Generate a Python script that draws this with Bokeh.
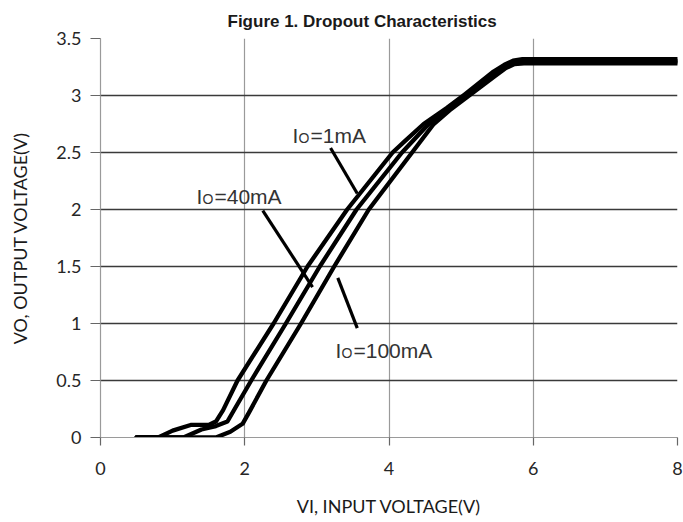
from bokeh.plotting import figure
from bokeh.models import Label, FixedTicker, Range1d, Title
from bokeh.embed import file_html
from bokeh.resources import INLINE

# ---------------- data ----------------
vin_1mA = [0.5, 0.8, 1.0, 1.25, 1.5, 1.6, 1.7, 1.9, 2.4, 2.87, 3.42, 4.05, 4.22, 4.48, 4.8,
           5.05, 5.45, 5.6, 5.72, 5.85, 8.0]
vout_1mA = [0.0, 0.0, 0.06, 0.11, 0.11, 0.14, 0.24, 0.5, 1.0, 1.5, 2.0, 2.5, 2.6, 2.75, 2.89,
            3.01, 3.21, 3.27, 3.305, 3.318, 3.318]

vin_40mA = [0.5, 1.15, 1.4, 1.6, 1.76, 1.86, 2.09, 2.57, 3.04, 3.55, 4.18, 4.55, 4.82,
            5.06, 5.46, 5.61, 5.73, 5.86, 8.0]
vout_40mA = [0.0, 0.0, 0.07, 0.1, 0.14, 0.25, 0.5, 1.0, 1.5, 2.0, 2.5, 2.75, 2.88,
             3.0, 3.19, 3.255, 3.29, 3.30, 3.30]

vin_100mA = [0.5, 1.6, 1.8, 1.97, 2.06, 2.3, 2.78, 3.24, 3.72, 4.32, 4.62, 4.84,
             5.07, 5.47, 5.62, 5.74, 5.87, 8.0]
vout_100mA = [0.0, 0.0, 0.05, 0.12, 0.22, 0.5, 1.0, 1.5, 2.0, 2.5, 2.75, 2.87,
              2.98, 3.17, 3.24, 3.275, 3.283, 3.283]

x_ticks = [0, 2, 4, 6, 8]
y_ticks = [0, 0.5, 1, 1.5, 2, 2.5, 3, 3.5]
y_tick_labels = ["0", "0.5", "1", "1.5", "2", "2.5", "3", "3.5"]

curve_names = ["1mA", "40mA", "100mA"]
# leader lines (data coords): start -> end
leader_x0 = [3.19, 2.25, 3.56]
leader_y0 = [2.54, 1.99, 0.96]
leader_x1 = [3.56, 2.94, 3.29]
leader_y1 = [2.14, 1.32, 1.40]

title_text = "Figure 1. Dropout Characteristics"
x_title = "VI, INPUT VOLTAGE(V)"
y_title = "VO, OUTPUT VOLTAGE(V)"

# ---------------- layout ----------------
W, H = 683, 522
FL, FT, FR, FB = 100, 38, 677, 437  # frame edges in canvas px
XPU = (FR - FL) / 8.0
YPU = (FB - FT) / 3.5


def dx(px):
    return (px - FL) / XPU


def dy(py):
    return (FB - py) / YPU


p = figure(width=W, height=H, x_range=Range1d(0, 8), y_range=Range1d(0, 3.5),
           output_backend="svg", toolbar_location=None,
           min_border_left=FL, min_border_right=W - FR, min_border_top=FT,
           min_border_bottom=H - FB)
p.title = Title(text=title_text, align="left", offset=127, standoff=15,
                text_font="Liberation Sans", text_font_style="bold",
                text_font_size="17px", text_color="#1a1a1a")
p.outline_line_color = None
p.background_fill_color = "white"
p.border_fill_color = "white"

p.xgrid.ticker = FixedTicker(ticks=[2, 4, 6, 8])
p.xgrid.grid_line_color = "#9a9a9a"
p.xgrid.grid_line_width = 1.2
p.ygrid.ticker = FixedTicker(ticks=y_ticks[1:])
p.ygrid.grid_line_color = "#3a3a3a"
p.ygrid.grid_line_width = 1.3

p.xaxis.ticker = FixedTicker(ticks=x_ticks)
p.yaxis.ticker = FixedTicker(ticks=y_ticks)
p.yaxis.major_label_overrides = {t: s for t, s in zip(y_ticks, y_tick_labels)}
for ax in (p.xaxis, p.yaxis):
    ax.axis_line_color = "#9a9a9a"
    ax.axis_line_width = 1.2
    ax.major_tick_line_color = "#666666"
    ax.major_tick_line_width = 1.2
    ax.minor_tick_line_color = None
    ax.major_tick_in = 0
    ax.major_label_text_font = "Lato"
    ax.major_label_text_font_size = "18px"
    ax.major_label_text_color = "#262626"
    ax.axis_label_text_font = "Lato"
    ax.axis_label_text_font_size = "18px"
    ax.axis_label_text_font_style = "normal"
    ax.axis_label_text_color = "#1a1a1a"
p.xaxis.major_tick_out = 8
p.xaxis.major_label_standoff = 16
p.xaxis.axis_label = x_title
p.xaxis.axis_label_standoff = 17
p.yaxis.major_tick_out = 10
p.yaxis.major_label_standoff = 9
p.yaxis.axis_label = y_title
p.yaxis.axis_label_standoff = 22

for xs, ys in ((vin_1mA, vout_1mA), (vin_40mA, vout_40mA), (vin_100mA, vout_100mA)):
    p.line(xs, ys, line_color="black", line_width=4.3, line_join="round", line_cap="round")

p.segment(x0=leader_x0, y0=leader_y0, x1=leader_x1, y1=leader_y1,
          line_color="black", line_width=3.2)

# curve labels: I + subscript O + =value
label_pos = {"1mA": (292, 135), "40mA": (196, 196), "100mA": (335, 350)}
for name in curve_names:
    px, py = label_pos[name]
    p.add_layout(Label(x=dx(px), y=dy(py), text="I", text_font="Liberation Sans",
                       text_font_size="21px", text_color="#333333", text_baseline="alphabetic"))
    p.add_layout(Label(x=dx(px + 6), y=dy(py + 2), text="O", text_font="Liberation Sans",
                       text_font_size="14px", text_color="#333333", text_baseline="alphabetic"))
    p.add_layout(Label(x=dx(px + 18), y=dy(py), text="=" + name, text_font="Liberation Sans",
                       text_font_size="21px", text_color="#333333", text_baseline="alphabetic"))

open("out.html", "w").write(file_html(p, INLINE))
